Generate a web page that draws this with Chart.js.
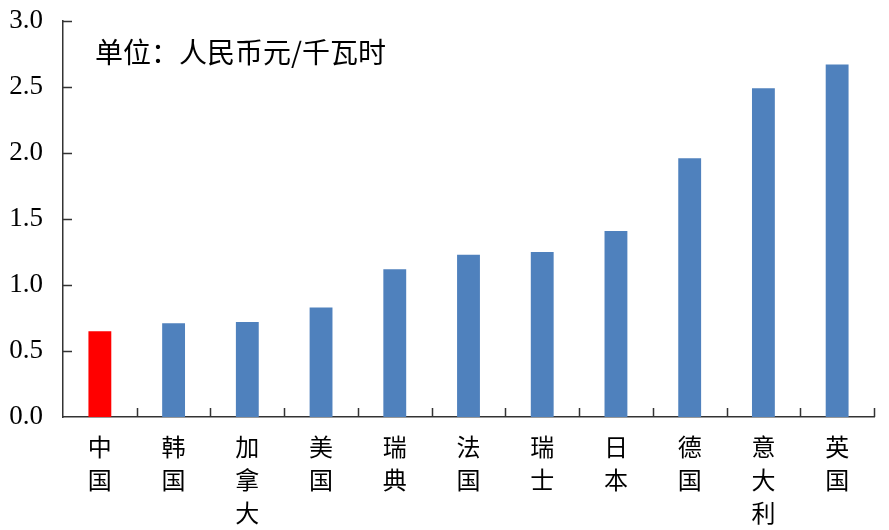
<!DOCTYPE html>
<html>
<head>
<meta charset="utf-8">
<script src="https://cdn.jsdelivr.net/npm/chart.js@4.4.0/dist/chart.umd.min.js"></script>
<style>
html,body{margin:0;padding:0;background:#fff;}
#wrap{width:889px;height:530px;position:relative;}
</style>
</head>
<body>
<div id="wrap"><canvas id="c" width="889" height="530"></canvas></div>
<script>
const categories = ["中国","韩国","加拿大","美国","瑞典","法国","瑞士","日本","德国","意大利","英国"];
const prices = [0.65, 0.71, 0.72, 0.83, 1.12, 1.23, 1.25, 1.41, 1.96, 2.49, 2.67];
const yTicks = [0, 0.5, 1.0, 1.5, 2.0, 2.5, 3.0];
const unitLabel = "单位：人民币元/千瓦时";

const barColors = categories.map(c => c === "中国" ? "#FF0000" : "#4F81BD");
const verticalLabels = categories.map(c => c.split(""));

const innerTicks = {
  id: 'innerTicks',
  afterDraw(chart) {
    const ctx = chart.ctx;
    const x = chart.scales.x, y = chart.scales.y;
    const area = chart.chartArea;
    ctx.save();
    ctx.strokeStyle = '#333';
    ctx.lineWidth = 1.5;
    ctx.beginPath();
    yTicks.forEach(v => {
      if (v === 0) return;
      const py = Math.round(y.getPixelForValue(v)) + 0.5;
      ctx.moveTo(area.left, py);
      ctx.lineTo(area.left + 9, py);
    });
    for (let i = 0; i < categories.length; i++) {
      const half = (i + 1 < categories.length) ? (x.getPixelForValue(i + 1) - x.getPixelForValue(i)) / 2 : (x.getPixelForValue(i) - x.getPixelForValue(i - 1)) / 2;
      const px = Math.round(x.getPixelForValue(i) + half) + 0.5;
      ctx.moveTo(px, area.bottom);
      ctx.lineTo(px, area.bottom - 9);
    }
    ctx.stroke();
    ctx.fillStyle = '#000';
    ctx.font = '28px "Noto Sans CJK SC"';
    ctx.textBaseline = 'middle';
    ctx.textAlign = 'left';
    ctx.fillText(unitLabel, area.left + 32, 52);
    ctx.restore();
  }
};

new Chart(document.getElementById('c'), {
  type: 'bar',
  data: {
    labels: verticalLabels,
    datasets: [{
      data: prices,
      backgroundColor: barColors,
      borderWidth: 0,
      barPercentage: 0.31,
      categoryPercentage: 1.0
    }]
  },
  options: {
    responsive: false,
    animation: false,
    events: [],
    layout: { padding: { top: 21, right: 15, left: 0, bottom: 0 } },
    plugins: { legend: { display: false }, tooltip: { enabled: false }, title: { display: false } },
    scales: {
      x: {
        grid: { display: false, drawTicks: false },
        border: { display: true, color: '#333', width: 1.5 },
        ticks: {
          color: '#000',
          font: { family: '"Noto Sans CJK SC"', size: 24, lineHeight: 1.375 },
          padding: 13,
          maxRotation: 0,
          autoSkip: false
        },
        afterFit(s) { s.height = 113; s.paddingLeft = 0; s.paddingRight = 0; }
      },
      y: {
        min: 0, max: 3.0,
        grid: { display: false, drawTicks: false },
        border: { display: true, color: '#333', width: 1.5 },
        ticks: {
          stepSize: 0.5,
          color: '#000',
          padding: 20,
          font: { family: '"Liberation Serif"', size: 27 },
          callback: v => Number(v).toFixed(1)
        },
        afterFit(s) { s.width = 63; s.paddingTop = 0; s.paddingBottom = 0; }
      }
    }
  },
  plugins: [innerTicks]
});
</script>
</body>
</html>
